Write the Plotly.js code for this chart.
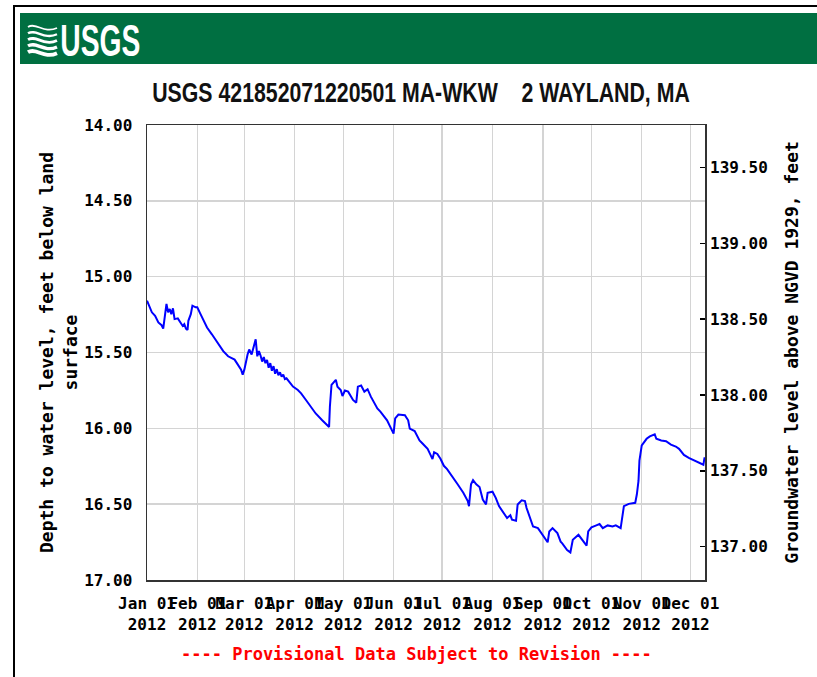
<!DOCTYPE html>
<html><head><meta charset="utf-8">
<script src="https://cdn.plot.ly/plotly-3.0.1.min.js"></script>
<style>html,body{margin:0;padding:0;background:#fff;}#chart{width:817px;height:677px;}</style>
</head><body><div id="chart"></div>
<script>
// ---- data ----
const dates = [
'2012-01-01','2012-01-02','2012-01-04','2012-01-06','2012-01-08','2012-01-10','2012-01-11','2012-01-13','2012-01-14','2012-01-15',
'2012-01-16','2012-01-17','2012-01-18','2012-01-20','2012-01-22','2012-01-23','2012-01-24','2012-01-25','2012-01-26','2012-01-26 12:00',
'2012-01-28','2012-01-29','2012-01-31',
'2012-02-01','2012-02-03','2012-02-05','2012-02-07','2012-02-10','2012-02-12','2012-02-15','2012-02-17','2012-02-20','2012-02-24',
'2012-02-26','2012-02-28','2012-02-29',
'2012-03-01','2012-03-03','2012-03-04','2012-03-05 12:00','2012-03-07','2012-03-08','2012-03-09','2012-03-10','2012-03-11','2012-03-12',
'2012-03-13','2012-03-14','2012-03-15','2012-03-16','2012-03-17','2012-03-18','2012-03-19','2012-03-20','2012-03-21','2012-03-22',
'2012-03-23','2012-03-24','2012-03-25','2012-03-26','2012-03-27','2012-03-28 12:00','2012-03-31',
'2012-04-03','2012-04-05','2012-04-08','2012-04-11','2012-04-14','2012-04-18','2012-04-22 06:00','2012-04-22 18:00','2012-04-23 18:00',
'2012-04-26 10:00','2012-04-27 10:00','2012-04-29 10:00','2012-04-30 12:00',
'2012-05-02','2012-05-04','2012-05-07','2012-05-09','2012-05-10','2012-05-12','2012-05-14','2012-05-16','2012-05-18','2012-05-20',
'2012-05-22','2012-05-24','2012-05-28',
'2012-06-01','2012-06-02','2012-06-04','2012-06-08','2012-06-10','2012-06-11','2012-06-14','2012-06-17','2012-06-19','2012-06-22',
'2012-06-24','2012-06-25','2012-06-26','2012-06-28','2012-06-30',
'2012-07-02','2012-07-04','2012-07-07','2012-07-10 12:00','2012-07-14','2012-07-16 18:00','2012-07-17 12:00','2012-07-18 18:00',
'2012-07-20','2012-07-22','2012-07-24','2012-07-26','2012-07-28','2012-07-29',
'2012-08-01','2012-08-03','2012-08-05','2012-08-08','2012-08-10','2012-08-12','2012-08-13','2012-08-15 12:00','2012-08-16 12:00',
'2012-08-19','2012-08-21','2012-08-22','2012-08-24','2012-08-26','2012-08-29',
'2012-09-01','2012-09-04','2012-09-05','2012-09-07','2012-09-10','2012-09-12','2012-09-13','2012-09-16','2012-09-18','2012-09-19 12:00',
'2012-09-23','2012-09-26','2012-09-28','2012-09-29',
'2012-10-01','2012-10-04','2012-10-06','2012-10-08','2012-10-11','2012-10-14','2012-10-16','2012-10-19','2012-10-20','2012-10-21',
'2012-10-24','2012-10-28','2012-10-29','2012-10-30','2012-10-30 14:00',
'2012-11-01','2012-11-04','2012-11-06','2012-11-09','2012-11-10','2012-11-13','2012-11-16','2012-11-19','2012-11-22','2012-11-24',
'2012-11-27','2012-11-30',
'2012-12-03 12:00','2012-12-07','2012-12-09','2012-12-09 18:00'
];
const depths = [
15.158,15.18,15.235,15.258,15.302,15.32,15.342,15.18,15.235,15.213,
15.247,15.209,15.28,15.275,15.313,15.325,15.313,15.342,15.351,15.291,
15.247,15.191,15.202,
15.202,15.247,15.291,15.335,15.38,15.413,15.458,15.491,15.525,15.547,
15.58,15.613,15.647,
15.613,15.513,15.48,15.513,15.447,15.413,15.525,15.49,15.52,15.56,
15.53,15.57,15.55,15.60,15.57,15.62,15.59,15.64,15.61,15.65,
15.63,15.66,15.645,15.675,15.67,15.691,15.725,
15.747,15.769,15.813,15.858,15.902,15.947,15.991,15.858,15.713,
15.68,15.725,15.747,15.787,
15.751,15.758,15.813,15.831,15.725,15.718,15.758,15.742,15.791,15.835,
15.869,15.891,15.947,
16.035,15.935,15.909,15.913,15.947,16.002,16.018,16.08,16.102,16.135,
16.18,16.202,16.158,16.169,16.202,
16.247,16.269,16.313,16.369,16.425,16.48,16.513,16.369,
16.342,16.369,16.387,16.469,16.502,16.425,
16.418,16.458,16.513,16.558,16.591,16.573,16.602,16.609,16.502,
16.475,16.48,16.525,16.591,16.647,16.658,
16.702,16.751,16.68,16.658,16.691,16.747,16.758,16.802,16.818,16.735,
16.702,16.747,16.773,16.68,
16.653,16.64,16.631,16.658,16.64,16.647,16.64,16.658,16.58,16.513,
16.498,16.491,16.435,16.347,16.213,
16.113,16.069,16.053,16.04,16.069,16.08,16.085,16.107,16.12,16.135,
16.175,16.195,
16.213,16.235,16.24,16.191
];
const landSurface = 153.78; // feet above NGVD 1929
const monthTicks = ['2012-01-01','2012-02-01','2012-03-01','2012-04-01','2012-05-01','2012-06-01',
                    '2012-07-01','2012-08-01','2012-09-01','2012-10-01','2012-11-01','2012-12-01'];
const monthLabels = ['Jan 01<br>2012','Feb 01<br>2012','Mar 01<br>2012','Apr 01<br>2012','May 01<br>2012','Jun 01<br>2012',
                     'Jul 01<br>2012','Aug 01<br>2012','Sep 01<br>2012','Oct 01<br>2012','Nov 01<br>2012','Dec 01<br>2012'];
const depthTicks = [14,14.5,15,15.5,16,16.5,17];
const depthLabels = ['14.00','14.50','15.00','15.50','16.00','16.50','17.00'];
const levelTicks = [137,137.5,138,138.5,139,139.5];
const levelLabels = ['137.00','137.50','138.00','138.50','139.00','139.50'];

// ---- layout geometry ----
const W = 817, H = 677, L = 147, R = 705, T = 125, B = 580;
const px = x => (x - L) / (R - L);
const py = y => (B - y) / (B - T);
const mono = 'DejaVu Sans Mono, Liberation Mono, monospace';
const sans = 'Liberation Sans, Arial, sans-serif';

const levels = depths.map(d => landSurface - d);

const traces = [
  {x: dates, y: depths, type: 'scatter', mode: 'lines', line: {color: '#0000ff', width: 2}, hoverinfo: 'x+y', showlegend: false},
  {x: dates, y: levels, type: 'scatter', mode: 'lines', yaxis: 'y2', line: {color: 'rgba(0,0,0,0)', width: 0}, hoverinfo: 'skip', showlegend: false}
];

const shapes = [
  {type: 'rect', xref: 'paper', yref: 'paper', x0: px(20), x1: px(817), y0: py(64), y1: py(13), fillcolor: '#006f41', line: {width: 0}, layer: 'below'},
  {type: 'line', xref: 'paper', yref: 'paper', x0: px(14), x1: px(14), y0: py(6), y1: py(680), line: {color: '#000', width: 2}},
  {type: 'line', xref: 'paper', yref: 'paper', x0: px(13), x1: px(820), y0: py(6), y1: py(6), line: {color: '#000', width: 2}}
];
// USGS wave mark
for (let k = 0; k < 5; k++) {
  const y0 = 27 + k * 6.3;
  shapes.push({type: 'path', xref: 'paper', yref: 'paper',
    path: `M ${px(28)} ${py(y0)} C ${px(36)} ${py(y0 - 5)} ${px(44)} ${py(y0 + 7)} ${px(57)} ${py(y0 + 1)}`,
    line: {color: '#fff', width: 1.8 + k * 0.5}});
}

const annotations = [
  {text: 'USGS', xref: 'paper', yref: 'paper', x: px(100), y: py(40), xanchor: 'center', yanchor: 'middle', showarrow: false,
   font: {family: sans, size: 44, color: '#fff', weight: 'bold'}},
  {text: '---- Provisional Data Subject to Revision ----', xref: 'paper', yref: 'paper', x: px(416), y: py(654), xanchor: 'center', yanchor: 'middle',
   showarrow: false, font: {family: mono, size: 17, color: '#ff0000', weight: 'bold'}}
];

const layout = {
  width: W, height: H,
  margin: {l: L, r: W - R, t: T, b: H - B, pad: 0},
  paper_bgcolor: '#fff', plot_bgcolor: '#fff',
  showlegend: false,
  title: {text: 'USGS 421852071220501 MA-WKW\u00a0\u00a0\u00a0\u00a02 WAYLAND, MA', x: 421 / W, xanchor: 'center', xref: 'container',
          y: 1 - 92 / H, yanchor: 'middle', yref: 'container', font: {family: sans, size: 28, color: '#111', weight: 'bold'}},
  xaxis: {type: 'date', range: ['2012-01-01', '2012-12-10'], tickmode: 'array', tickvals: monthTicks, ticktext: monthLabels, tickangle: 0,
          showgrid: true, gridcolor: '#d4d4d4', gridwidth: 1.5, zeroline: false, showline: true, linecolor: '#333', linewidth: 1.5, mirror: true,
          ticks: 'outside', ticklen: 8, tickcolor: 'rgba(0,0,0,0)', tickfont: {family: mono, size: 16, color: '#000', weight: 'bold'}, fixedrange: true},
  yaxis: {range: [17, 14], tickmode: 'array', tickvals: depthTicks, ticktext: depthLabels,
          showgrid: true, gridcolor: '#d4d4d4', gridwidth: 1.5, zeroline: false, showline: true, linecolor: '#333', linewidth: 1.5, mirror: true,
          ticks: 'outside', ticklen: 10, tickcolor: 'rgba(0,0,0,0)', tickfont: {family: mono, size: 16, color: '#000', weight: 'bold'},
          title: {text: 'Depth to water level, feet below land<br>surface', font: {family: mono, size: 18, color: '#000', weight: 'bold'}, standoff: 2},
          fixedrange: true},
  yaxis2: {overlaying: 'y', side: 'right', anchor: 'x', range: [landSurface - 17, landSurface - 14], tickmode: 'array', tickvals: levelTicks, ticktext: levelLabels,
           showgrid: false, zeroline: false, showline: false, ticks: 'inside', ticklen: 5, tickwidth: 1.5, tickcolor: '#000',
           ticklabelstandoff: 4,
           tickfont: {family: mono, size: 16, color: '#000', weight: 'bold'},
           title: {text: 'Groundwater level above NGVD 1929, feet', font: {family: mono, size: 18, color: '#000', weight: 'bold'}, standoff: 18},
           fixedrange: true},
  shapes: shapes,
  annotations: annotations
};

// squeeze a text element horizontally about its centre so it fits a target width (condensed look of the original)
function condense(el, targetWidth) {
  if (!el) return;
  const bb = el.getBBox();
  if (!bb.width) return;
  const s = Math.min(1, targetWidth / bb.width);
  const cx = bb.x + bb.width / 2;
  const prev = el.getAttribute('transform') || '';
  el.setAttribute('transform', `${prev} translate(${cx},0) scale(${s},1) translate(${-cx},0)`);
}

Plotly.newPlot('chart', traces, layout, {displayModeBar: false, staticPlot: true}).then(gd => {
  condense(gd.querySelector('.gtitle'), 538);
  const ann = gd.querySelectorAll('.annotation-text');
  if (ann.length) condense(ann[0], 80);
});
</script>
</body></html>
